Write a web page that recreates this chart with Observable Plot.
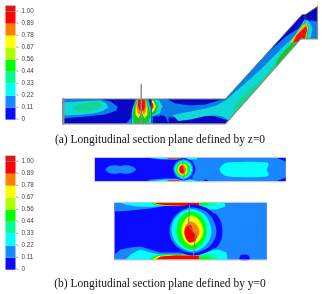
<!DOCTYPE html>
<html><head><meta charset="utf-8">
<script src="https://cdn.jsdelivr.net/npm/d3@7"></script>
<script src="https://cdn.jsdelivr.net/npm/@observablehq/plot@0.6"></script>
<style>html,body{margin:0;padding:0;background:#fff}svg{display:block;filter:blur(.4px)}</style>
</head><body><div id="c"></div>
<script>
const tickLabels = ["0","0.11","0.22","0.33","0.44","0.56","0.67","0.78","0.89","1.00"];
const colorsB = ["#0a0aff","#1a86ff","#00ffff","#00ff99","#00ff00","#b0ff00","#ffff00","#ff8000","#ff0000","#d81818"];
const colorsA = ["#0606c8","#0a7ee8","#10d8d8","#10d890","#10c828","#a8e000","#f0f000","#ff8000","#e81010","#d81818"];
const captions = ["(a) Longitudinal section plane defined by z=0","(b) Longitudinal section plane defined by y=0"];

// contour regions, painted in order: [panel, band, smooth, outline x,y,...]
const ductA = [
 ["a",0,0,[62,98.5,225,98.5,301.7,14,305,14,317,6,317,38.3,300.3,38.3,225,123.3,62,123.3]],
 // left lobe
 ["a",1,0,[62,98.5,100,98.5,110,101,117,106,116,110,105,114,85,116,62,118]],
 ["a",2,0,[62,102,85,100.5,100,100,106,103,108,107,102,110.5,93,113,78,114.5,62,115]],
 ["a",3,0,[72,108,78,104,88,102,97,101,102,105,96,108.5,87,111,77,111]],
 // right duct field
 ["a",1,0,[152,98.5,166,98.5,175,103,190,105,205,104,218,100,225,98.5,268,51.3,285,36,296,29,304,24,304,38,300.3,38.3,228,120,218,117,205,113,190,114,172,117,166,116,164,114,152,114]],
 ["a",1,0,[152,98.5,168,98.5,168,123.3,165,116,158,114,152,114]],
 ["a",2,0,[172,114.5,190,111,205,108,216,105,225,100,234,92,248,80,261,68,272,57,285,44,296,34,300,34,300.3,38.3,228,119.8,222,116,216,115,205,115.5,190,119,178,120.5]],
 ["a",3,0,[232,115.5,234,104,248,90,261,79,272,66,277,62,278,63.5]],
 ["a",4,0,[275,66.5,276,60,284,50,292,42,296,37,298,41,296,43.2]],
 // jet at the nozzle
 ["a",1,0,[135,98.5,148,98.5,151,108,152,118,152.5,123.3,125,123.3,130,118,132,108]],
 ["a",2,0,[136,99,147,99,150,108,152,118,151,123.3,130,123.3,131,116,132,108]],
 ["a",4,0,[137,99,146,99,149,108,150,116,147,123,134,123,132,116,133,108]],
 ["a",6,0,[137.5,99,145,99,147,107,147,114,144,118,141,111,138,118,135,114,135,107]],
 ["a",7,0,[137.5,99,145,99,146,106,145,112,143,114,141,110,139,114,137,112,136,106]],
 ["a",8,0,[137.5,99,144.5,99,144.5,106,143.5,110,139,110,137.5,106]],
 // lobe right of the jet
 ["a",1,0,[151,98.5,164,98.5,167,106,163,113,158,116,151,116]],
 ["a",2,0,[151,99,158,99,162,106,159,113,151,116]],
 ["a",4,0,[151,98.5,154,98.5,157.5,106,155,113,151,115]],
 ["a",6,0,[151,100,153,100,155.5,106,153,111,151,112]],
 ["a",8,0,[151,102,152.5,103,153,105.5,152.5,108,151,108]],
 // outlet
 ["a",0,0,[268,51.3,302,14,305,14,317,6,317,20,310,20,304,24,296,29,285,36]],
 ["a",1,0,[304,23,311,20,317,21,317,38.3,304,38.3]],
 ["a",2,0,[296,32,304,19,308,20,312,28,310,38.3,302,38.3,298,41]],
 ["a",4,0,[290,40,297,32,304,22,308,26,307,38.3,300.3,38.3,297,42]],
 ["a",6,0,[290,41.5,296,33,305,22,307.5,27,305.5,38.3,300.3,38.3,297,42]],
 ["a",7,0,[291.5,42,296,34,305,24,307,29,305,38.3,300.3,38.3,297.5,41.5]],
 ["a",8,0,[292.5,42,296,35,301,30,306,25.5,306.5,30,304,38.3,300.3,38.3,297.5,41.5]]
];
const planeTop = [
 ["b",0,0,[94.3,157.3,285,157.3,285,180.7,94.3,180.7]],
 ["b",1,0,[192,157.3,285,157.3,285,180.7,192,180.7]],
 ["b",1,1,[105,169,108,166,113,164.8,120,165.5,126,164.8,132,166,135.5,169,132,172,126,173.3,120,172.5,113,173.3,108,172]],
 ["b",2,1,[219,169,224,163,240,161.5,256,161.5,268,163,266.5,169,268,175,256,176.5,240,176.5,224,175]],
 ["b",0,0,[276,157.3,285,157.3,285,161]],
 ["b",0,0,[276,180.7,285,177,285,180.7]],
 ["b",0,1,[203,180.5,205,179,208,180.5]],
 // strips
 ["b",1,0,[146,157.3,198,157.3,200,160,190,160,176,159,160,159]],
 ["b",2,0,[150,157.3,196,157.3,197,159,180,159,160,158.5]],
 ["b",7,0,[165,157.3,182,157.3,178,158.6,168,158.6]],
 ["b",8,0,[165,157.3,180,157.3,178,158,168,158]],
 ["b",1,0,[146,180.7,150,179,165,178,190,178,200,179,205,180.7]],
 ["b",2,0,[150,180.7,165,179,190,179,198,180.7]],
 ["b",7,0,[165,180.7,168,179.5,178,179.5,182,180.7]],
 ["b",8,0,[166,180.7,168,180,178,180,180,180.7]],
 // disc
 ["b",0,1,[171,168.5,174.5,161,183,157.6,191,161,195,168.5,191,176.5,183,180,174.5,176.5]],
 ["b",1,1,[172.7,168.5,176,161.5,183,158.7,190,161.5,193,168.5,190,176,183,179.3,176,176]],
 ["b",2,1,[174,168.5,177,162.5,183,160,189,162.5,191.5,168.5,189,175,183,178,177,175]],
 ["b",4,1,[175.5,169,178,163.5,183,161.5,188,164,189.5,169,187.5,174,183,176.5,178,174.5]],
 ["b",6,1,[177,169,179,164.5,182.5,163,186,165,187,169,186,173,182.5,175,179,173.5]],
 ["b",7,1,[178,169,179.5,165.5,182,164,184.5,165.5,185.5,169,184.5,172.5,182,174,179.5,172.5]],
 ["b",8,1,[179,169,180,166,181.5,165,183,166.5,184,170,183,172.5,181.5,173,180,172]]
];
const planeBottom = [
 ["b",0,0,[114,202.3,266,202.3,266,259,114,259]],
 ["b",1,0,[218,202.3,266,202.3,266,259,218,259]],
 ["b",1,0,[204,202.3,226,202.3,228,208,222,213,222,248,228,252,228,259,204,259]],
 // dark crescent
 ["b",0,1,[214,213,220,220,222,231,220,241,214,248,211,240,214,231,212,220]],
 ["b",0,1,[239,259,240,255,244,254,248,255,249,259]],
 // top strip
 ["b",1,0,[114,202.3,199,202.3,199,206,165,205.5,150,208,135,209.5,125,210.5,114,211]],
 ["b",2,0,[120,202.3,199,202.3,199,205.5,165,205,150,206.5,135,206,125,204]],
 ["b",4,0,[150,202.3,199,202.3,199,206,170,205,155,205]],
 ["b",6,0,[152,202.3,199,202.3,199,206,170,205,158,204.5]],
 ["b",8,0,[153,202.3,199,202.3,198,206,172,205,158,204]],
 // bottom strip
 ["b",1,0,[114,259,114,254,120,249,130,247,140,246,150,249,160,252,199,252,199,259]],
 ["b",2,0,[125,259,130,254,140,249,150,252,160,254,199,254,199,259]],
 ["b",4,0,[148,259,156,254.5,170,254,199,254,199,259]],
 ["b",6,0,[152,259,158,255.5,170,254.5,199,254.5,199,259]],
 ["b",8,0,[155,259,160,256,175,254.8,199,255,199,259]],
 // patches right of the disc
 ["b",2,0,[199,202.3,224,202.3,225,206,216,209,205,209,199,207]],
 ["b",3,0,[199,202.3,216,202.3,216,205,205,206,199,205]],
 ["b",4,0,[199,202.3,208,202.3,208,204,199,204.5]],
 ["b",2,0,[199,259,227,259,226,252,218,249,208,250,199,253]],
 ["b",3,0,[199,259,218,259,216,255,208,253,199,255]],
 ["b",4,0,[199,259,210,259,208,256,199,256.5]],
 // disc
 ["b",0,1,[166,230,172,213,190,204,210,210,221,230,214,247,192,255,173,247]],
 ["b",1,1,[169,230,175,215,190,207,208,213,216,231,209,246,192,252.5,175,245]],
 ["b",2,1,[171,230,176,216,190,208.5,205,215,211,232,205,245,192,251,177,244]],
 ["b",4,1,[176,230,180,217,190,211,202,217,206,231,202,243,191,249,180,243]],
 ["b",6,1,[181,230,184,220,190.5,215,199,220,203,231,199,240,191,245,184,240]],
 ["b",7,1,[183.5,231,186,224,190,221,196,224,199,232,196,238,190,241,186,238]],
 ["b",8,1,[184,232,186,226,190,224.5,193,231,196,235,195,240,189,242,185.5,238]]
];
const walls = [
 ["#7d7d7d",1,[62,98.5,225,98.5,301.7,14,305,14,317,6]],
 ["#8c8c8c",1.2,[317,5.5,317,38.3,300.3,38.3,225,123.3,62,123.3]],
 ["#909090",2,[63,98.5,63,123.3]],
 ["#606060",.8,[304.5,14,304.5,24]],
 ["#8a8a8a",1.4,[140.7,84,140.7,122.7]],
 ["#0000a0",.5,[131,100,131,122]],
 ["#0000a0",.5,[151,100,151,122]],
 ["#cfcfcf",1,[94,156.8,285.5,156.8]],
 ["#cfcfcf",1,[94,181.2,285.5,181.2]],
 ["#cfcfcf",1,[114,201.8,266.5,201.8]],
 ["#cfcfcf",1,[114,259.5,266.5,259.5]],
 ["#888888",1,[183,158.5,182,164,184,171,183,179.5]],
 ["#808080",1.1,[189,205,188,225,195,234,193,255]]
];

const key = (p, b) => p + b;
const domain = [...colorsA.map((_, i) => key("a", i)), ...colorsB.map((_, i) => key("b", i))];
const range = [...colorsA, ...colorsB];
const pts = a => d3.range(0, a.length, 2).map(i => ({x: a[i], y: a[i + 1]}));

const regionMarks = [...ductA, ...planeTop, ...planeBottom].map(([p, b, smooth, a]) =>
  Plot.line(pts(a), {x: "x", y: "y", fill: () => key(p, b), stroke: "none",
    curve: smooth ? "catmull-rom-closed" : "linear-closed"}));
const wallMarks = walls.map(([c, w, a]) =>
  Plot.line(pts(a), {x: "x", y: "y", stroke: c, strokeWidth: w}));

const bands = colorsB.map((_, i) => i);
const legend = (base) => [
  Plot.rect(bands, {x1: 5.5, x2: 15.5,
    y1: i => base - i * 12, y2: i => i === 9 ? base - 114 : base - (i + 1) * 12,
    fill: i => key("b", i)}),
  Plot.link(bands, {x1: 15.5, x2: 18, y1: i => base - i * 12 - 1, y2: i => base - i * 12 - 1, stroke: "#777", strokeWidth: .6}),
  Plot.text(bands, {x: 21, y: i => base - 1.6 - i * 12, text: i => tickLabels[i],
    textAnchor: "start", fontSize: 6.3, fontFamily: "Liberation Sans", fill: "#444"})
];

const chart = Plot.plot({
  width: 322, height: 294, margin: 0,
  x: {domain: [0, 322], range: [0, 322], axis: null},
  y: {domain: [0, 294], range: [0, 294], axis: null},
  color: {type: "ordinal", domain, range},
  style: {background: "#fff"},
  marks: [
    ...legend(119.6), ...legend(269.7),
    ...regionMarks, ...wallMarks,
    Plot.text(captions, {x: 159.5, y: (d, i) => i ? 283 : 138.5, text: d => d, fontSize: 11.5,
      fontFamily: "Liberation Serif", fill: "#111", textAnchor: "middle"})
  ]
});
document.getElementById("c").append(chart);
</script></body></html>
